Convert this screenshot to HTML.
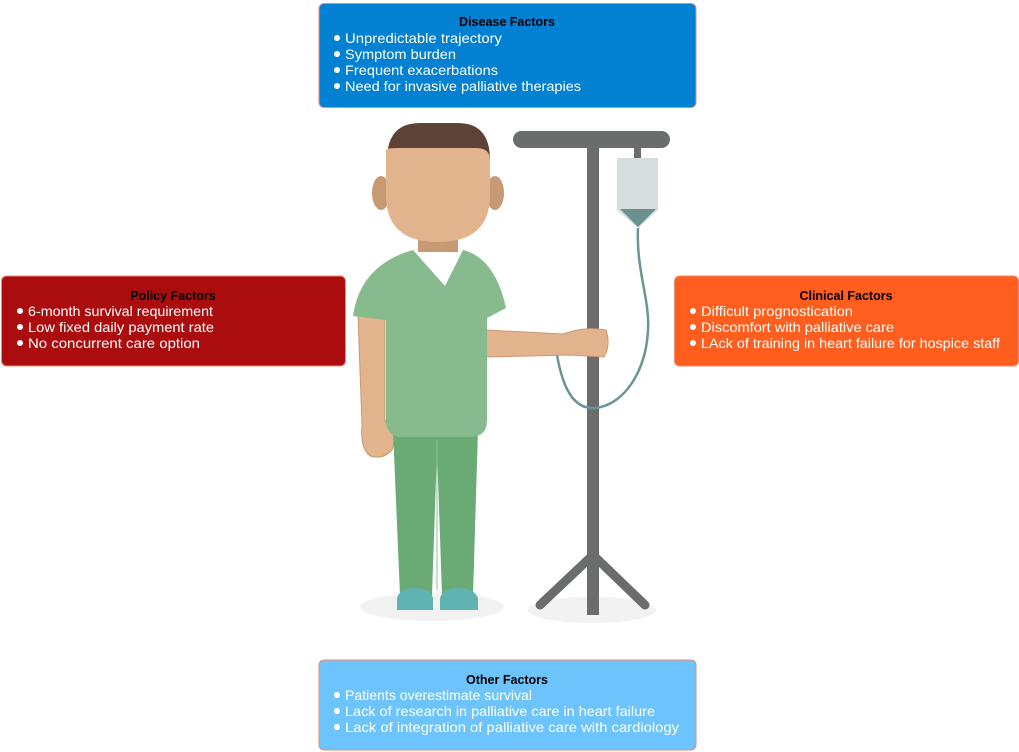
<!DOCTYPE html>
<html><head><meta charset="utf-8"><style>
html,body{margin:0;padding:0;background:#fff;}
svg{display:block;}
.t{font-family:"Liberation Sans",sans-serif;font-size:12.5px;font-weight:bold;fill:#000;}
.l{font-family:"Liberation Sans",sans-serif;font-size:14px;fill:#fff;}
</style></head><body>
<svg width="1019" height="752" viewBox="0 0 1019 752" xmlns="http://www.w3.org/2000/svg">
<ellipse cx="432" cy="607" rx="72" ry="14" fill="#f2f2f2"/>
<ellipse cx="592" cy="610" rx="64" ry="13" fill="#f2f2f2"/>
<rect x="513" y="131" width="157" height="17" rx="8.5" fill="#6b6d6c"/>
<rect x="587" y="148" width="12" height="467" fill="#6b6d6c"/>
<line x1="593" y1="555" x2="540" y2="605" stroke="#6b6d6c" stroke-width="9" stroke-linecap="round"/>
<line x1="593" y1="555" x2="645" y2="605" stroke="#6b6d6c" stroke-width="9" stroke-linecap="round"/>
<rect x="634" y="148" width="7" height="12" fill="#6b6d6c"/>
<path d="M617 158 H658 V210 L638 228 L617 210 Z" fill="#d5dddd"/>
<path d="M620 209 H656 L638 227 Z" fill="#6b9090"/>
<path d="M638 228 C636 270 650 300 648 330 C646 370 625 405 595 408 C570 410 560 380 555 342" fill="none" stroke="#6b9595" stroke-width="2.5"/>
<ellipse cx="381" cy="193" rx="9" ry="17" fill="#c89a74"/>
<ellipse cx="495" cy="193" rx="9" ry="17" fill="#c89a74"/>
<path d="M387 160 Q387 123 420 123 H458 Q490 123 490 160 V185 H387 Z" fill="#5d4337"/>
<rect x="418" y="230" width="40" height="22" fill="#c89a74"/>
<path d="M386 150 Q386 148 400 148 H476 Q490 148 490 160 V195 Q490 242 438 242 Q386 242 386 195 Z" fill="#e2b48e"/>
<path d="M358 315 L385 315 L385 420 Q398 435 392 450 Q383 460 370 456 Q360 448 362 425 Z" fill="#e2b48e" stroke="#c99870" stroke-width="1"/>
<path d="M486 330 L563 334 Q585 326 606 330 Q611 345 604 357 L570 355 L486 357 Z" fill="#e2b48e" stroke="#c99870" stroke-width="1"/>
<path d="M393 430 H478 L473 595 H442 L437 450 L432 595 H400 Z" fill="#6aab75"/>
<line x1="437" y1="440" x2="437" y2="590" stroke="#8cc296" stroke-width="1"/>
<path d="M413 250 L445 286 L463 250 Q495 258 506 308 L487 318 V420 Q487 437 470 437 H403 Q386 437 386 420 V320 L353 316 Q360 265 413 250 Z" fill="#87bb8d"/>
<path d="M397 610 V598 Q400 588 415 588 Q430 588 433 598 V610 Z" fill="#5fb3b3"/>
<path d="M440 610 V598 Q443 588 458 588 Q474 588 478 598 V610 Z" fill="#5fb3b3"/>
<g fill="#fff">
<circle cx="337" cy="38" r="3"/><circle cx="337" cy="54" r="3"/><circle cx="337" cy="70" r="3"/><circle cx="337" cy="86" r="3"/>
</g>
<rect x="319" y="3.5" width="377" height="104" rx="5" fill="#0280d1" stroke="#f08a6e" stroke-width="1"/>
<g fill="#fff"><circle cx="337" cy="38" r="3"/><circle cx="337" cy="54" r="3"/><circle cx="337" cy="70" r="3"/><circle cx="337" cy="86" r="3"/></g>
<text class="t" x="507" y="26" text-anchor="middle">Disease Factors</text>
<text class="l" x="345" y="43" textLength="157" lengthAdjust="spacingAndGlyphs">Unpredictable trajectory</text>
<text class="l" x="345" y="59" textLength="111" lengthAdjust="spacingAndGlyphs">Symptom burden</text>
<text class="l" x="345" y="75" textLength="153" lengthAdjust="spacingAndGlyphs">Frequent exacerbations</text>
<text class="l" x="345" y="91" textLength="236" lengthAdjust="spacingAndGlyphs">Need for invasive palliative therapies</text>
<rect x="1.5" y="276" width="344" height="90" rx="5" fill="#ab0d0e" stroke="#f08a6e" stroke-width="1"/>
<g fill="#fff"><circle cx="20" cy="311" r="3"/><circle cx="20" cy="327" r="3"/><circle cx="20" cy="343" r="3"/></g>
<text class="t" x="173" y="300" text-anchor="middle">Policy Factors</text>
<text class="l" x="28" y="316" textLength="185" lengthAdjust="spacingAndGlyphs">6-month survival requirement</text>
<text class="l" x="28" y="332" textLength="186" lengthAdjust="spacingAndGlyphs">Low fixed daily payment rate</text>
<text class="l" x="28" y="348" textLength="172" lengthAdjust="spacingAndGlyphs">No concurrent care option</text>
<rect x="674.5" y="276" width="344" height="90" rx="5" fill="#ff5e1f" stroke="#f08a6e" stroke-width="1"/>
<g fill="#fff"><circle cx="693" cy="311" r="3"/><circle cx="693" cy="327" r="3"/><circle cx="693" cy="343" r="3"/></g>
<text class="t" x="846" y="300" text-anchor="middle">Clinical Factors</text>
<text class="l" x="701" y="316" textLength="152" lengthAdjust="spacingAndGlyphs">Difficult prognostication</text>
<text class="l" x="701" y="332" textLength="193" lengthAdjust="spacingAndGlyphs">Discomfort with palliative care</text>
<text class="l" x="701" y="348" textLength="299" lengthAdjust="spacingAndGlyphs">LAck of training in heart failure for hospice staff</text>
<rect x="319" y="660" width="377" height="90" rx="5" fill="#6dc4fd" stroke="#f08a6e" stroke-width="1"/>
<g fill="#fff"><circle cx="337" cy="695" r="3"/><circle cx="337" cy="711" r="3"/><circle cx="337" cy="727" r="3"/></g>
<text class="t" x="507" y="684" text-anchor="middle">Other Factors</text>
<text class="l" x="345" y="700" textLength="187" lengthAdjust="spacingAndGlyphs">Patients overestimate survival</text>
<text class="l" x="345" y="716" textLength="310" lengthAdjust="spacingAndGlyphs">Lack of research in palliative care in heart failure</text>
<text class="l" x="345" y="732" textLength="334" lengthAdjust="spacingAndGlyphs">Lack of integration of palliative care with cardiology</text>
</svg>
</body></html>
